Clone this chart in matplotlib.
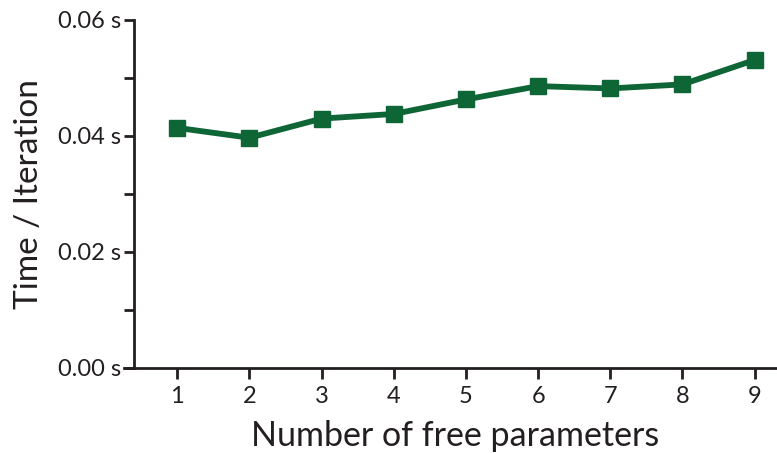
import matplotlib
matplotlib.use("Agg")
import matplotlib.pyplot as plt
from matplotlib.ticker import MultipleLocator, FuncFormatter

n_params = [1, 2, 3, 4, 5, 6, 7, 8, 9]
time_per_iter = [0.0414, 0.0397, 0.0430, 0.0438, 0.0463, 0.0486, 0.0482, 0.0489, 0.0531]
y_major = [0.00, 0.02, 0.04, 0.06]

plt.rcParams['font.family'] = ['Lato', 'DejaVu Sans']

fig = plt.figure(figsize=(7.77, 4.53), dpi=100)
ax = fig.add_axes([134/777, 1-368/453, 1-134/777, (368-20)/453])

green = '#0E6636'
ink = '#231F20'
ax.plot(n_params, time_per_iter, color=green, lw=4.2, marker='s', ms=11,
        markerfacecolor=green, markeredgecolor=green, solid_joinstyle='miter')

ax.set_xlim(0.40, 9.31)
ax.set_ylim(0, 0.06)
ax.set_xticks(n_params)
ax.set_yticks(y_major)
ax.yaxis.set_minor_locator(MultipleLocator(0.01))
ax.yaxis.set_major_formatter(FuncFormatter(lambda v, p: f"{v:.2f} s"))

for s in ['top', 'right']:
    ax.spines[s].set_visible(False)
for s in ['left', 'bottom']:
    ax.spines[s].set_linewidth(2)
    ax.spines[s].set_color(ink)
ax.spines['bottom'].set_bounds(0.40 - 0.14, 9.31)
ax.tick_params(axis='both', which='both', direction='out', width=2, color=ink,
               labelsize=17, labelcolor=ink)
ax.tick_params(axis='y', which='both', length=7, pad=2)
ax.tick_params(axis='x', which='both', length=8, pad=5)

ax.set_xlabel('Number of free parameters', fontsize=24.5, color=ink, labelpad=9)
ax.set_ylabel('Time / Iteration', fontsize=24, color=ink, labelpad=10)

fig.savefig('out.png', dpi=100)
